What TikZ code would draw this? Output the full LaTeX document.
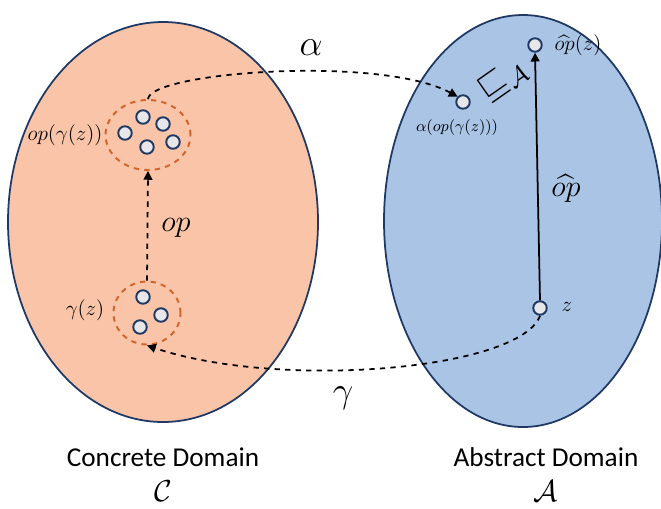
\documentclass[tikz,border=0pt]{standalone}
\usepackage{amsmath}
\usepackage{fontspec}
\newfontfamily\labelfont{Carlito}
\usetikzlibrary{arrows.meta,shapes.geometric}

\definecolor{concfill}{RGB}{249,196,167}
\definecolor{absfill}{RGB}{169,196,229}
\definecolor{edgenavy}{RGB}{31,56,100}
\definecolor{dotfill}{RGB}{231,231,233}
\definecolor{grouporange}{RGB}{210,100,42}

\tikzset{
    elem/.style={circle, draw=edgenavy, fill=dotfill, line width=1.1pt, minimum size=0.27cm, inner sep=0pt},
    group/.style={ellipse, draw=grouporange, dashed, line width=1.1pt, inner sep=0pt},
    mapto/.style={dashed, line width=1pt, -{Triangle[length=5pt,width=5pt]}},
    mlabel/.style={font=\fontsize{13}{15}\selectfont, inner sep=1pt},
}

\begin{document}
\begin{tikzpicture}[x=0.02cm, y=-0.02cm]
    \useasboundingbox (0,0) rectangle (661,508);
    \clip (0,0) rectangle (661,508);

        % domains
        \fill[concfill] (163,222) ellipse (155 and 200);
        \draw[edgenavy, line width=1pt] (163,222) ellipse (155 and 200);
        \fill[absfill] (523,221) ellipse (139 and 206);
        \draw[edgenavy, line width=1pt] (523,221) ellipse (139 and 206);

        % concrete sets
        \node[group, minimum width=1.7cm, minimum height=1.4cm] (grpTop) at (148,135) {};
        \node[group, minimum width=1.34cm, minimum height=1.26cm] (grpBot) at (147,313) {};

        \node[elem] (t1) at (125,133) {};
        \node[elem] (t2) at (143,117) {};
        \node[elem] (t3) at (163,124) {};
        \node[elem] (t4) at (147,147) {};
        \node[elem] (t5) at (173,142) {};

        \node[elem] (b1) at (143,297) {};
        \node[elem] (b2) at (161,315) {};
        \node[elem] (b3) at (140,327) {};

        % abstract elements
        \node[elem] (opz)   at (535,45)  {};
        \node[elem] (alpha) at (463,102) {};
        \node[elem] (zz)    at (540,308) {};

        % text labels
        \node[mlabel] at (65,135) {$op(\gamma(z))$};
        \node[mlabel] at (85,310) {$\gamma(z)$};
        \node[font=\fontsize{18}{20}\selectfont] at (176,228) {$op$};
        \node[mlabel] at (578,45) {$\widehat{op}(z)$};
        \node[font=\fontsize{9.5}{11}\selectfont] at (457,128) {$\alpha(op(\gamma(z)))$};
        \node[rotate=35, font=\fontsize{20}{22}\selectfont] at (503,80) {$\sqsubseteq_{\mathcal{A}}$};
        \node[mlabel] at (567,307) {$z$};
        \node[font=\fontsize{18}{20}\selectfont, inner sep=1pt] at (566,188) {$\widehat{op}$};
        \node[font=\fontsize{21}{23}\selectfont] at (311,48) {$\alpha$};
        \node[font=\fontsize{21}{23}\selectfont] at (343,398) {$\gamma$};

        \node[inner sep=0.5pt] (concName) at (163,457) {\labelfont\fontsize{15.5}{18}\selectfont Concrete Domain};
        \node[inner sep=0.5pt] (concSym)  at (163,491) {\fontsize{19}{21}\selectfont $\mathcal{C}$};
        \node[inner sep=0.5pt] (absName)  at (546,457) {\labelfont\fontsize{15.5}{18}\selectfont Abstract Domain};
        \node[inner sep=0.5pt] (absSym)   at (546,491) {\fontsize{19}{21}\selectfont $\mathcal{A}$};

        % draw arrows
        \draw[mapto] (grpBot.north) -- (grpTop.south);
        \draw[line width=1pt, -{Triangle[length=5pt,width=5pt]}] (zz.north) -- (opz.south);
        \draw[mapto] (grpTop.north) .. controls (150,72) and (380,55) .. (alpha.north west);
        \draw[mapto] (zz.south) .. controls (520,370) and (280,390) .. (grpBot.south);
    \end{tikzpicture}
\end{document}
